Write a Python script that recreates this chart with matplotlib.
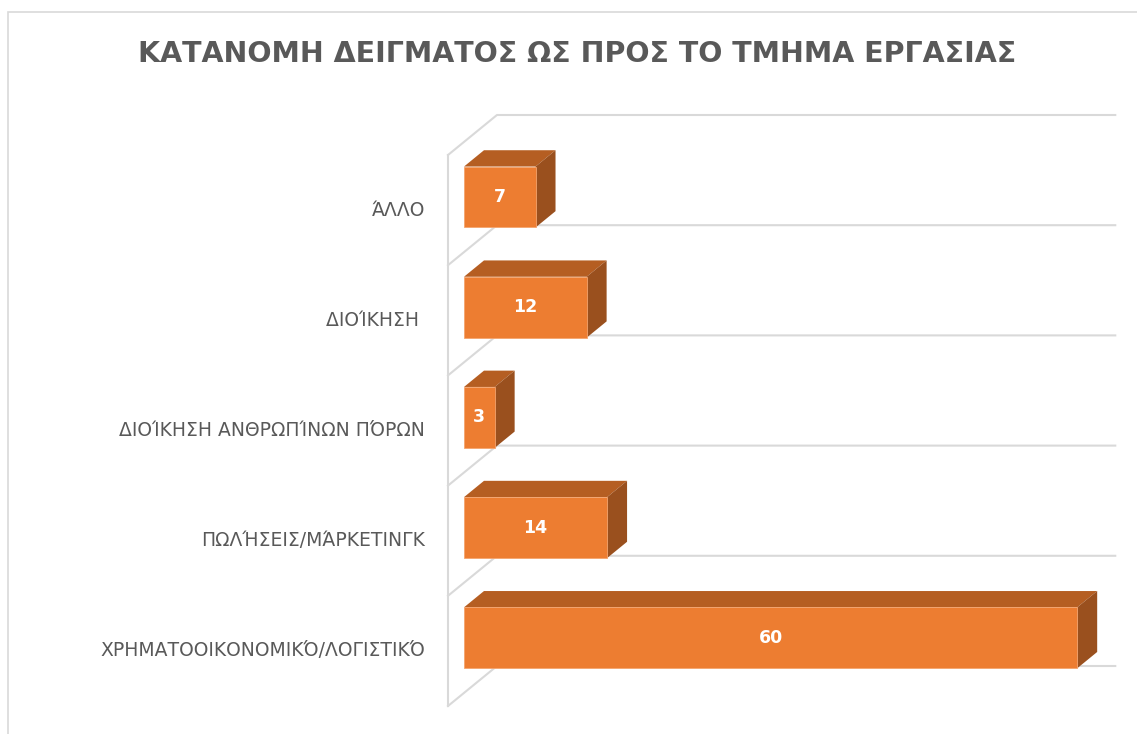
import matplotlib.pyplot as plt
from matplotlib.patches import Polygon, Rectangle

# data (top to bottom as in the chart)
categories = ['ΆΛΛΟ', 'ΔΙΟΊΚΗΣΗ ', 'ΔΙΟΊΚΗΣΗ ΑΝΘΡΩΠΊΝΩΝ ΠΌΡΩΝ',
              'ΠΩΛΉΣΕΙΣ/ΜΆΡΚΕΤΙΝΓΚ', 'ΧΡΗΜΑΤΟΟΙΚΟΝΟΜΙΚΌ/ΛΟΓΙΣΤΙΚΌ']
values = [7, 12, 3, 14, 60]
title = 'ΚΑΤΑΝΟΜΗ ΔΕΙΓΜΑΤΟΣ ΩΣ ΠΡΟΣ ΤΟ ΤΜΗΜΑ ΕΡΓΑΣΙΑΣ'

#colours
front_col = '#ED7D31'
top_col = '#B55E22'
side_col = '#9A501E'
grid_col = '#D9D9D9'
text_col = '#595959'

#3d look: depth offsets in data units
DX = 4.79      # value units for full depth
DY = -0.363    # category units for full depth
d0, d1 = 0.327, 0.735   # bar depth range
bar_h = 0.553
vmax = 60.5

def P(v, c, d):
    return (v + d * DX, c + d * DY)

fig = plt.figure(figsize=(11.37, 7.34), dpi=100)
ax = fig.add_axes([0, 0, 1, 1])
ax.set_xlim(-448 / 10.22, (1137 - 448) / 10.22)
ax.set_ylim((734 - 155) / 110.2, -155 / 110.2)
ax.axis('off')

n = len(categories)

#walls / gridlines
ax.plot([0, 0], [0, n], color=grid_col, lw=1.5, zorder=1)
for k in range(n + 1):
    a, b, c = P(0, k, 0), P(0, k, 1), P(vmax, k, 1)
    ax.plot([a[0], b[0], c[0]], [a[1], b[1], c[1]], color=grid_col, lw=1.5, zorder=1)

#bars
centers = [k + 0.5 for k in range(n)]
ax.barh([c + d0 * DY for c in centers], values, left=d0 * DX, height=bar_h,
        color=front_col, edgecolor='#F4A46E', linewidth=0.6, zorder=3)
for c, v in zip(centers, values):
    top = c - bar_h / 2
    bot = c + bar_h / 2
    ax.add_patch(Polygon([P(0, top, d0), P(v, top, d0), P(v, top, d1), P(0, top, d1)],
                         closed=True, facecolor=top_col, edgecolor='none', zorder=2))
    ax.add_patch(Polygon([P(v, top, d0), P(v, top, d1), P(v, bot, d1), P(v, bot, d0)],
                         closed=True, facecolor=side_col, edgecolor='none', zorder=2))
    x, y = P(v / 2, c, d0)
    ax.text(x, y, str(v), color='white', fontsize=12.5, fontweight='bold',
            ha='center', va='center', zorder=4)

#category labels
for c, lab in zip(centers, categories):
    ax.text(-2.25, c, lab, color=text_col, fontsize=13.5, ha='right', va='center')

fig.text(0.508, 0.926, title, color=text_col, fontsize=20.5, fontweight='bold',
         ha='center', va='center')

#chart border
fig.add_artist(Rectangle((8 / 1137, -0.02), 1.0, 1 - 12.5 / 734 + 0.02,
                         transform=fig.transFigure, fill=False,
                         edgecolor=grid_col, linewidth=1.2))

fig.savefig('out.png', dpi=100)
